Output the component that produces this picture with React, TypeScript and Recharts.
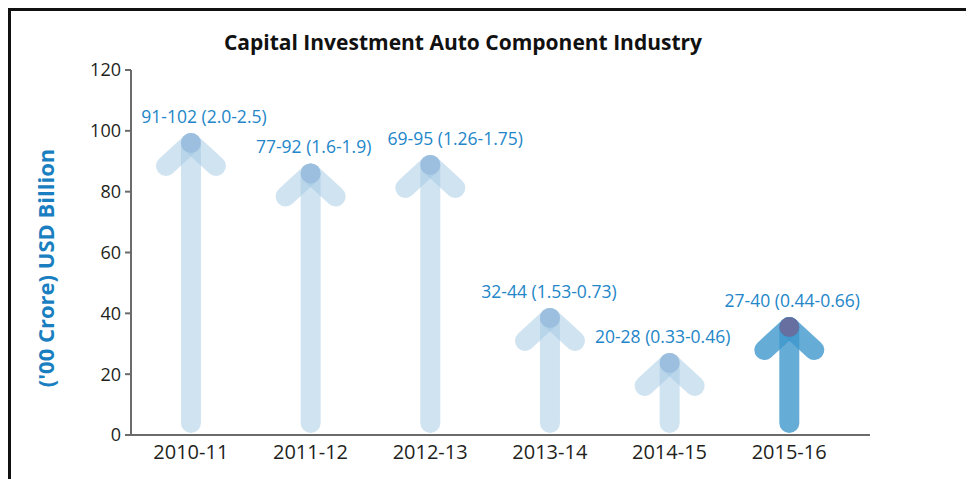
import { BarChart, Bar, XAxis, YAxis, LabelList } from 'recharts'

const categories = ['2010-11', '2011-12', '2012-13', '2013-14', '2014-15', '2015-16']
const tipValues = [96, 86, 88.8, 38.5, 23.7, 35.5]
const rangeLabels = [
  '91-102 (2.0-2.5)',
  '77-92 (1.6-1.9)',
  '69-95 (1.26-1.75)',
  '32-44 (1.53-0.73)',
  '20-28 (0.33-0.46)',
  '27-40 (0.44-0.66)',
]
const yTicks = [0, 20, 40, 60, 80, 100, 120]
const highlighted = '2015-16'

// the source nudges some labels sideways so they don't collide
const labelNudge = [13, 3, 25, -1, -7, 3]

const data = categories.map((c, i) => ({ category: c, value: tipValues[i], label: rangeLabels[i] }))

const FONT = '"Open Sans", "DejaVu Sans", sans-serif'
const BLUE_TEXT = '#2386c8'

const ArrowShape = (props: any) => {
  const { x, y, width, height, payload } = props
  const cx = x + width / 2
  const tip = y
  const base = y + height
  const hl = payload.category === highlighted
  const stroke = hl ? '#3e97cd' : '#a1c7e3'
  const op = hl ? 0.8 : 0.5
  const dot = hl ? '#676fa0' : '#9dbfdf'
  const common = { stroke, strokeOpacity: op, strokeWidth: 20, strokeLinecap: 'round' as const }
  return (
    <g>
      <line x1={cx} y1={base - 12} x2={cx} y2={tip} {...common} />
      <line x1={cx} y1={tip} x2={cx - 25} y2={tip + 23} {...common} />
      <line x1={cx} y1={tip} x2={cx + 25} y2={tip + 23} {...common} />
      <circle cx={cx} cy={tip} r={10} fill={dot} />
    </g>
  )
}

const RangeLabel = (props: any) => {
  const { x, y, width, value, index } = props
  return (
    <text
      x={x + width / 2 + (labelNudge[index] ?? 0)}
      y={y - 20}
      textAnchor="middle"
      fill={BLUE_TEXT}
      fontSize={17.5}
      fontFamily={FONT}
    >
      {value}
    </text>
  )
}

const YTitle = () => (
  <text
    x={45}
    y={268}
    transform="rotate(-90, 45, 268)"
    textAnchor="middle"
    dominantBaseline="central"
    fill="#1a7fc1"
    fontSize={22}
    fontWeight={700}
    fontFamily={FONT}
  >
    ('00 Crore) USD Billion
  </text>
)

export default function App() {
  return (
    <div style={{ position: 'relative', width: 966, height: 471 }}>
      <div
        style={{
          position: 'absolute',
          left: 0,
          top: 0,
          right: 0,
          bottom: 0,
          borderTop: '3px solid #111',
          borderLeft: '3px solid #111',
        }}
      />
      <div
        style={{
          position: 'absolute',
          left: -8,
          top: 20,
          width: 926,
          textAlign: 'center',
          fontFamily: FONT,
          fontWeight: 700,
          fontSize: 21,
          color: '#111',
        }}
      >
        Capital Investment Auto Component Industry
      </div>
      <div style={{ position: 'absolute', left: -8, top: -8 }}>
        <BarChart
          width={974}
          height={479}
          data={data}
          margin={{ top: 70, right: 104, bottom: 14, left: 71 }}
        >
          <XAxis
            dataKey="category"
            height={30}
            padding={{ left: 0, right: 21 }}
            tickLine={false}
            tickMargin={4}
            axisLine={{ stroke: '#6b6b6b', strokeWidth: 2 }}
            tick={{ fill: '#231f20', fontSize: 20, fontFamily: FONT }}
            interval={0}
          />
          <YAxis
            width={60}
            domain={[0, 120]}
            ticks={yTicks}
            interval={0}
            tickSize={6}
            tickMargin={4}
            axisLine={{ stroke: '#6b6b6b', strokeWidth: 2 }}
            tickLine={{ stroke: '#6b6b6b', strokeWidth: 2 }}
            tick={{ fill: '#231f20', fontSize: 18, fontFamily: FONT }}
            label={{ content: () => <YTitle /> }}
          />
          <Bar dataKey="value" shape={<ArrowShape />} isAnimationActive={false}>
            <LabelList dataKey="label" content={<RangeLabel />} />
          </Bar>
        </BarChart>
      </div>
    </div>
  )
}
